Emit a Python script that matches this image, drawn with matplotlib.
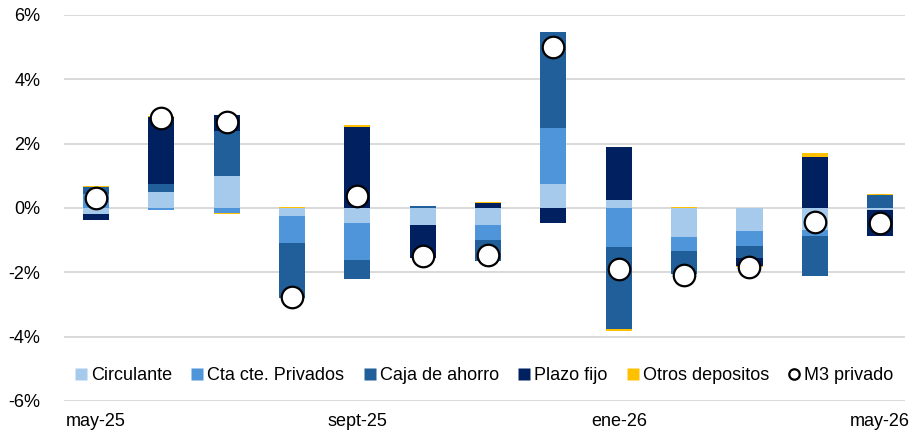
import matplotlib
matplotlib.use("Agg")
import matplotlib.pyplot as plt
import numpy as np
from matplotlib.lines import Line2D

plt.rcParams['font.family'] = ['Liberation Sans', 'DejaVu Sans']

# Monthly contribution to private M3 growth (percentage points)
months = ["may-25", "jun-25", "jul-25", "ago-25", "sept-25", "oct-25", "nov-25",
          "dic-25", "ene-26", "feb-26", "mar-26", "abr-26", "may-26"]
circulante = [-0.20, 0.51, 0.98, -0.25, -0.46, -0.53, -0.52, 0.74, 0.26, -0.90, -0.72, -0.67, -0.07]
cta_cte = [0.45, -0.05, -0.15, -0.85, -1.17, 0.00, -0.46, 1.74, -1.20, -0.43, -0.47, -0.19, 0.00]
caja_ahorro = [0.20, 0.24, 1.41, -1.70, -0.57, 0.06, -0.67, 2.99, -2.57, -0.73, -0.36, -1.26, 0.39]
plazo_fijo = [-0.17, 2.08, 0.50, 0.00, 2.53, -1.02, 0.16, -0.46, 1.65, 0.00, -0.24, 1.60, -0.81]
otros = [0.03, 0.03, -0.05, 0.02, 0.04, -0.02, 0.03, 0.01, -0.04, 0.03, -0.03, 0.10, 0.04]
m3_privado = [0.32, 2.79, 2.68, -2.78, 0.38, -1.50, -1.45, 5.00, -1.89, -2.07, -1.84, -0.45, -0.46]

series = [
    ("Circulante", circulante, "#A6CAEC"),
    ("Cta cte. Privados", cta_cte, "#4E95D9"),
    ("Caja de ahorro", caja_ahorro, "#215F9A"),
    ("Plazo fijo", plazo_fijo, "#002060"),
    ("Otros depositos", otros, "#FFC000"),
]

fig = plt.figure(figsize=(9.13, 4.36), dpi=100)
ax = fig.add_axes([0.0701, 0.0803, 0.9211, 0.8853])

x = np.arange(len(months))
pos_base = np.zeros(len(months))
neg_base = np.zeros(len(months))
for name, vals, color in series:
    v = np.array(vals)
    bottoms = np.where(v >= 0, pos_base, neg_base)
    ax.bar(x, v, width=0.4, bottom=bottoms, color=color, edgecolor="none", zorder=2)
    pos_base += np.where(v >= 0, v, 0)
    neg_base += np.where(v < 0, v, 0)

ax.plot(x, m3_privado, linestyle="none", marker="o", markersize=15.5,
        markerfacecolor="white", markeredgecolor="black", markeredgewidth=1.6, zorder=3)

ax.set_ylim(-6, 6)
ax.set_xlim(-0.49, 12.38)
ax.set_yticks(np.arange(-6, 7, 2))
ax.set_yticklabels([f"{v}%" for v in range(-6, 7, 2)])
ax.yaxis.grid(True, color="#D9D9D9", linewidth=1.4, zorder=0)
ax.set_axisbelow(True)
for s in ax.spines.values():
    s.set_visible(False)
ax.tick_params(axis="y", length=0, pad=17, labelsize=13, labelcolor="#000000")

tick_idx = [0, 4, 8, 12]
ax.set_xticks(tick_idx)
ax.set_xticklabels([months[i] for i in tick_idx])
ax.tick_params(axis="x", length=0, pad=9, labelsize=13)

handles = [Line2D([0], [0], linestyle="none", marker="s", markersize=8,
                  markerfacecolor=c, markeredgecolor="none") for _, _, c in series]
handles.append(Line2D([0], [0], linestyle="none", marker="o", markersize=7.5,
                      markerfacecolor="white", markeredgecolor="black", markeredgewidth=1.6))
labels = [n for n, _, _ in series] + ["M3 privado"]
ax.legend(handles, labels, loc="center", bbox_to_anchor=(0.5, 0.065), ncol=6,
          frameon=False, fontsize=13, handlelength=0.6, handletextpad=0.25,
          columnspacing=1.1, borderaxespad=0)

fig.savefig("out.png", dpi=100)
